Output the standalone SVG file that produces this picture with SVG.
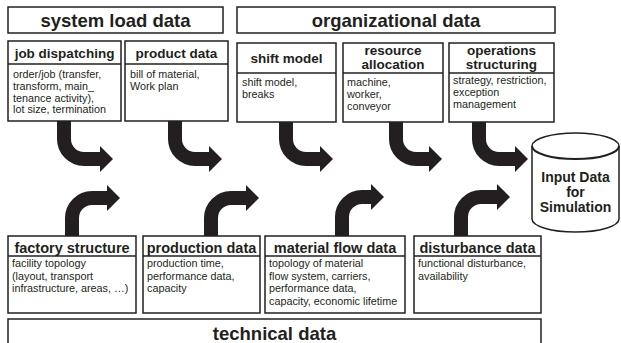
<svg xmlns="http://www.w3.org/2000/svg" width="621" height="343" viewBox="0 0 621 343">
<defs>
<style>
.box{fill:#fff;stroke:#231f20;stroke-width:1.5}
.div{stroke:#231f20;stroke-width:1.3}
.big{font-family:"Liberation Sans",Arial,sans-serif;font-weight:bold;font-size:18.5px;fill:#231f20;text-anchor:middle}
.hd{font-family:"Liberation Sans",Arial,sans-serif;font-weight:bold;font-size:13.5px;fill:#231f20;text-anchor:middle}
.hd2{font-family:"Liberation Sans",Arial,sans-serif;font-weight:bold;font-size:14.5px;fill:#231f20;text-anchor:middle}
.bd{font-family:"Liberation Sans",Arial,sans-serif;font-size:10.8px;fill:#231f20}
.cy{font-family:"Liberation Sans",Arial,sans-serif;font-weight:bold;font-size:14px;fill:#231f20;text-anchor:middle}
.ar{fill:none;stroke:#231f20;stroke-width:14}
.ah{fill:#231f20}
</style>
</defs>
<rect width="621" height="343" fill="#fff"/>

<g id="system-load-data">
<rect class="box" x="8" y="7" width="215" height="26"/>
<text class="big" x="115.5" y="27">system load data</text>
</g>
<g id="organizational-data">
<rect class="box" x="237" y="7" width="318" height="26"/>
<text class="big" x="396" y="27">organizational data</text>
</g>

<g id="job-dispatching">
<rect class="box" x="8" y="41" width="113" height="80"/>
<line class="div" x1="8" y1="64" x2="121" y2="64"/>
<text class="hd" x="64.5" y="58">job dispatching</text>
<text class="bd" x="13" y="78">order/job (transfer,</text>
<text class="bd" x="13" y="90">transform, main_</text>
<text class="bd" x="13" y="101.5">tenance activity),</text>
<text class="bd" x="13" y="113">lot size, termination</text>
</g>
<g id="product-data">
<rect class="box" x="125" y="41" width="103" height="80"/>
<line class="div" x1="125" y1="64" x2="228" y2="64"/>
<text class="hd" x="176.5" y="58">product data</text>
<text class="bd" x="130" y="78">bill of material,</text>
<text class="bd" x="130" y="90">Work plan</text>
</g>
<g id="shift-model">
<rect class="box" x="237" y="43" width="99" height="79"/>
<line class="div" x1="237" y1="73" x2="336" y2="73"/>
<text class="hd" x="286.5" y="63">shift model</text>
<text class="bd" x="242" y="86">shift model,</text>
<text class="bd" x="242" y="98">breaks</text>
</g>
<g id="resource-allocation">
<rect class="box" x="343" y="43" width="100" height="79"/>
<line class="div" x1="343" y1="73" x2="443" y2="73"/>
<text class="hd" x="393" y="55">resource</text>
<text class="hd" x="393" y="69">allocation</text>
<text class="bd" x="347" y="86">machine,</text>
<text class="bd" x="347" y="98">worker,</text>
<text class="bd" x="347" y="110">conveyor</text>
</g>
<g id="operations-structuring">
<rect class="box" x="449" y="43" width="105" height="79"/>
<line class="div" x1="449" y1="73" x2="554" y2="73"/>
<text class="hd" x="501.5" y="55">operations</text>
<text class="hd" x="501.5" y="69">structuring</text>
<text class="bd" x="453" y="84">strategy, restriction,</text>
<text class="bd" x="453" y="96">exception</text>
<text class="bd" x="453" y="108">management</text>
</g>

<g id="input-data">
<path class="box" stroke-width="2" d="M532,146 A43.5,13 0 0 1 619,146 V219 A43.5,13 0 0 1 532,219 Z"/>
<path fill="none" stroke="#231f20" stroke-width="2" d="M532,146 A43.5,13 0 0 0 619,146"/>
<text class="cy" x="575.5" y="182">Input Data</text>
<text class="cy" x="575.5" y="197">for</text>
<text class="cy" x="575.5" y="212">Simulation</text>
</g>

<g id="factory-structure">
<rect class="box" x="8" y="236" width="128" height="77"/>
<line class="div" x1="8" y1="256" x2="136" y2="256"/>
<text class="hd2" x="72" y="253">factory structure</text>
<text class="bd" x="12" y="267">facility topology</text>
<text class="bd" x="12" y="279.5">(layout, transport</text>
<text class="bd" x="12" y="292">infrastructure, areas, …)</text>
</g>
<g id="production-data">
<rect class="box" x="143" y="236" width="117" height="77"/>
<line class="div" x1="143" y1="256" x2="260" y2="256"/>
<text class="hd2" x="201.5" y="253">production data</text>
<text class="bd" x="147" y="267">production time,</text>
<text class="bd" x="147" y="279.5">performance data,</text>
<text class="bd" x="147" y="292">capacity</text>
</g>
<g id="material-flow-data">
<rect class="box" x="265" y="236" width="140" height="77"/>
<line class="div" x1="265" y1="256" x2="405" y2="256"/>
<text class="hd2" x="335" y="253">material flow data</text>
<text class="bd" x="269" y="267">topology of material</text>
<text class="bd" x="269" y="279.5">flow system, carriers,</text>
<text class="bd" x="269" y="292">performance data,</text>
<text class="bd" x="269" y="304.5">capacity, economic lifetime</text>
</g>
<g id="disturbance-data">
<rect class="box" x="414" y="236" width="127" height="77"/>
<line class="div" x1="414" y1="256" x2="541" y2="256"/>
<text class="hd2" x="477.5" y="253">disturbance data</text>
<text class="bd" x="418" y="267">functional disturbance,</text>
<text class="bd" x="418" y="279.5">availability</text>
</g>
<g id="technical-data">
<rect class="box" x="8" y="319" width="533" height="40"/>
<text class="big" x="274.5" y="340">technical data</text>
</g>

<g id="connectors">
<path class="ar" d="M64,121 V139 A20,20 0 0 0 84,159 H101"/>
<polygon class="ah" points="100,146 113,159 100,172"/>
<path class="ar" d="M175,121 V139 A20,20 0 0 0 195,159 H210"/>
<polygon class="ah" points="209,146 222,159 209,172"/>
<path class="ar" d="M286,122 V139 A20,20 0 0 0 306,159 H321"/>
<polygon class="ah" points="320,146 333,159 320,172"/>
<path class="ar" d="M396,122 V139 A20,20 0 0 0 416,159 H430"/>
<polygon class="ah" points="429,146 442,159 429,172"/>
<path class="ar" d="M479,122 V139 A20,20 0 0 0 499,159 H516"/>
<polygon class="ah" points="515,146 528,159 515,172"/>

<path class="ar" d="M72,236 V218 A20,20 0 0 1 92,198 H108"/>
<polygon class="ah" points="107,185 120,198 107,211"/>
<path class="ar" d="M211,236 V218 A20,20 0 0 1 231,198 H247"/>
<polygon class="ah" points="246,185 259,198 246,211"/>
<path class="ar" d="M342,236 V217 A20,20 0 0 1 362,197 H372"/>
<polygon class="ah" points="371,184 384,197 371,210"/>
<path class="ar" d="M461,236 V217 A20,20 0 0 1 481,197 H498"/>
<polygon class="ah" points="497,184 510,197 497,210"/>
</g>
</svg>
